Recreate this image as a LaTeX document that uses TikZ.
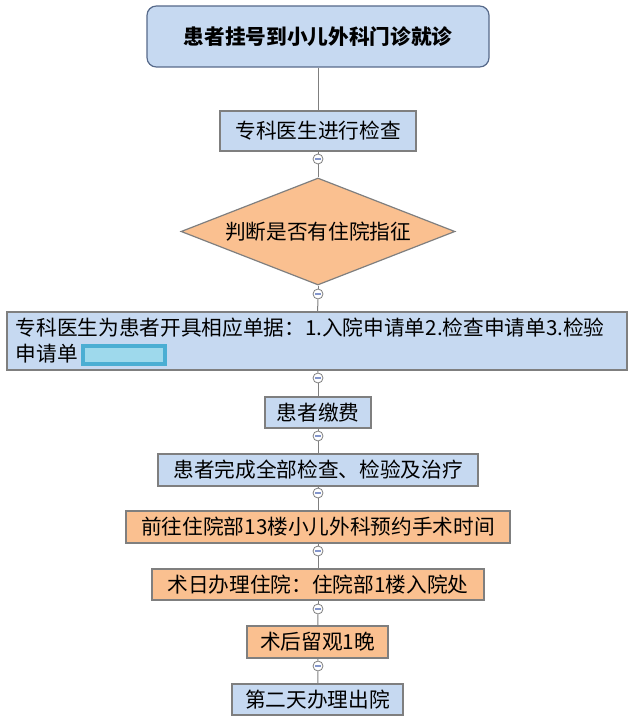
\documentclass[tikz,border=0pt]{standalone}
\usepackage{fontspec}
\setmainfont{Noto Sans CJK SC}
\usetikzlibrary{shapes.geometric}

\definecolor{boxblue}{HTML}{C6D9F1}
\definecolor{boxorange}{HTML}{FAC090}
\definecolor{edgegray}{HTML}{7F7F7F}
\definecolor{titleedge}{HTML}{56698A}
\definecolor{minusblue}{HTML}{8496CC}
\definecolor{markfill}{HTML}{9ED9EC}
\definecolor{markedge}{HTML}{4BAED3}

\tikzset{
  stepbox/.style={draw=edgegray,line width=0.9pt,inner sep=0pt,font=\fontsize{15.5}{19.5}\selectfont},
  bluebox/.style={stepbox,fill=boxblue},
  orangebox/.style={stepbox,fill=boxorange},
  toggle/.style={circle,draw=edgegray,fill=white,line width=0.6pt,minimum size=7.5pt,inner sep=0pt,
    path picture={\draw[minusblue,line width=0.8pt] ([xshift=-2pt]path picture bounding box.center) -- ([xshift=2pt]path picture bounding box.center);}},
  link/.style={draw=edgegray,line width=0.75pt}
}

\begin{document}
\begin{tikzpicture}[x=0.75pt,y=-0.75pt]
\useasboundingbox (0,0) rectangle (632,720);

\node[bluebox,draw=titleedge,rounded corners=7pt,minimum width=256.5pt,minimum height=45.75pt,font=\fontsize{15.5}{19.5}\selectfont\bfseries] (start) at (318,36.5) {患者挂号到小儿外科门诊就诊};
\node[bluebox,minimum width=147pt,minimum height=30pt] (check) at (318,131) {专科医生进行检查};
\node[orangebox,diamond,aspect=2.56,minimum width=205.5pt,minimum height=80.25pt] (judge) at (318,231.5) {判断是否有住院指征};
\node[bluebox,minimum width=465pt,minimum height=43.5pt,text width=452pt,align=left] (forms) at (317,341) {专科医生为患者开具相应单据：1.入院申请单2.检查申请单3.检验\\申请单};
\node[bluebox,minimum width=79.5pt,minimum height=23.25pt] (pay) at (318,412.5) {患者缴费};
\node[bluebox,minimum width=240pt,minimum height=24pt] (done) at (318,470) {患者完成全部检查、检验及治疗};
\node[orangebox,minimum width=288pt,minimum height=24pt] (book) at (318,527) {前往住院部13楼小儿外科预约手术时间};
\node[orangebox,minimum width=249pt,minimum height=23.25pt] (admit) at (318,584.5) {术日办理住院：住院部1楼入院处};
\node[orangebox,minimum width=105.75pt,minimum height=24pt] (stay) at (317.5,642) {术后留观1晚};
\node[bluebox,minimum width=128.25pt,minimum height=23.25pt] (leave) at (317.5,699.5) {第二天办理出院};

% highlight after the second line
\draw[markedge,fill=markfill,line width=3pt] (83,346) rectangle (165,364);

\draw[link] (start) to (check);
\node[toggle] (t1) at (318,159) {};
\node[toggle] (t2) at (318,294) {};
\node[toggle] (t3) at (318,378) {};
\node[toggle] (t4) at (318,436) {};
\node[toggle] (t5) at (318,493) {};
\node[toggle] (t6) at (318,551) {};
\node[toggle] (t7) at (318,609) {};
\node[toggle] (t8) at (318,666) {};

\draw[link] (check) to (t1); \draw[link] (t1) to (judge);
\draw[link] (judge) to (t2); \draw[link] (t2) to (forms);
\draw[link] (forms) to (t3); \draw[link] (t3) to (pay);
\draw[link] (pay) to (t4); \draw[link] (t4) to (done);
\draw[link] (done) to (t5); \draw[link] (t5) to (book);
\draw[link] (book) to (t6); \draw[link] (t6) to (admit);
\draw[link] (admit) to (t7); \draw[link] (t7) to (stay);
\draw[link] (stay) to (t8); \draw[link] (t8) to (leave);
\end{tikzpicture}
\end{document}
